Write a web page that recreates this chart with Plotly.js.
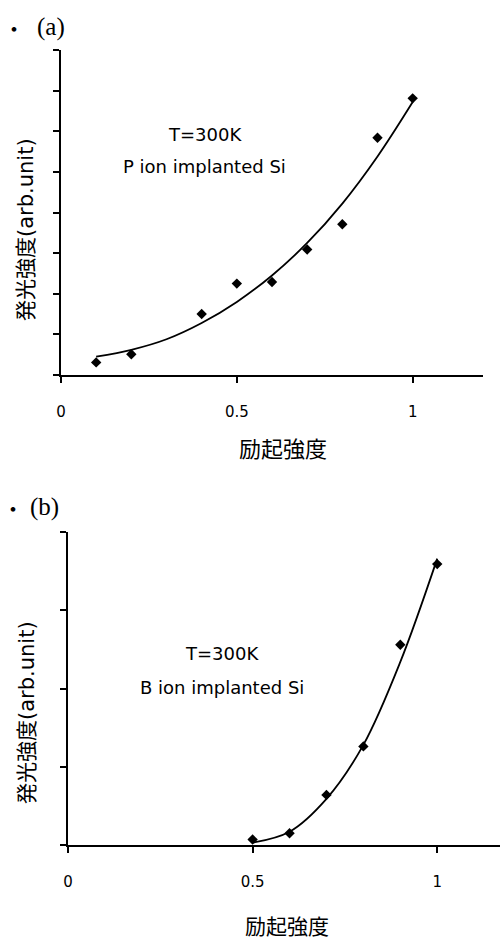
<!DOCTYPE html>
<html><head><meta charset="utf-8">
<script src="https://cdn.plot.ly/plotly-3.0.1.min.js"></script>
<style>html,body{margin:0;padding:0;background:#fff}</style>
</head><body><div id="chart" style="width:502px;height:942px"></div>
<script>
// Panel (a): P ion implanted Si
const xA = [0.1, 0.2, 0.4, 0.5, 0.6, 0.7, 0.8, 0.9, 1.0];
const yA = [0.31, 0.51, 1.50, 2.25, 2.29, 3.09, 3.71, 5.84, 6.81];
// trend curve (a)
const fitXA = [0.1, 0.2, 0.3, 0.4, 0.5, 0.6, 0.7, 0.8, 0.9, 1.0];
const fitYA = [0.45, 0.62, 0.88, 1.28, 1.80, 2.45, 3.25, 4.22, 5.38, 6.72];

// Panel (b): B ion implanted Si
const xB = [0.5, 0.6, 0.7, 0.8, 0.9, 1.0];
const yB = [0.07, 0.15, 0.64, 1.26, 2.56, 3.59];
// trend curve (b)
const fitXB = [0.5, 0.6, 0.7, 0.8, 0.9, 1.0];
const fitYB = [0.03, 0.17, 0.59, 1.28, 2.34, 3.66];

const xTickVals = [0, 0.5, 1];
const xTickText = ["0", "0.5", "1"];
const xTitle = "励起強度";
const yTitle = "発光強度(arb.unit)";
const labelA = ["T=300K", "P ion implanted Si"];
const labelB = ["T=300K", "B ion implanted Si"];
const panelA = "(a)", panelB = "(b)";

const W = 502, H = 942;
const px = x => x / W, py = y => 1 - y / H;

const mk = {symbol: 'diamond', size: 8, color: '#000'};
const ln = {color: '#000', width: 1.8, shape: 'spline', smoothing: 1};

const traces = [
  {x: fitXA, y: fitYA, mode: 'lines', line: ln, xaxis: 'x', yaxis: 'y', hoverinfo: 'skip'},
  {x: xA, y: yA, mode: 'markers', marker: mk, xaxis: 'x', yaxis: 'y'},
  {x: fitXB, y: fitYB, mode: 'lines', line: ln, xaxis: 'x2', yaxis: 'y2', hoverinfo: 'skip'},
  {x: xB, y: yB, mode: 'markers', marker: mk, xaxis: 'x2', yaxis: 'y2'}
];

const tickFont = {family: 'DejaVu Sans, Liberation Sans, sans-serif', size: 15, color: '#000'};
const xBase = {
  tickvals: xTickVals, ticktext: xTickText, ticks: 'outside', ticklen: 6, tickwidth: 2, tickcolor: '#000',
  showline: true, linecolor: '#000', linewidth: 2, showgrid: false, zeroline: false,
  tickfont: tickFont, ticklabelstandoff: 16, fixedrange: true
};
const yBase = {
  dtick: 1, tick0: 0, ticks: 'outside', ticklen: 6, tickwidth: 2, tickcolor: '#000',
  showline: true, linecolor: '#000', linewidth: 2, showgrid: false, zeroline: false,
  showticklabels: false, fixedrange: true
};

const cjk = 'Noto Sans CJK JP, sans-serif';
const mixed = 'DejaVu Sans, Noto Sans CJK JP, sans-serif';
const sans = 'DejaVu Sans, Liberation Sans, sans-serif';
const serif = 'Liberation Serif, DejaVu Serif, serif';
const ann = (text, x, y, size, family, angle) => ({
  text, x: px(x), y: py(y), xref: 'paper', yref: 'paper', showarrow: false,
  xanchor: 'center', yanchor: 'middle', textangle: angle || 0,
  font: {family, size, color: '#000'}
});

const layout = {
  width: W, height: H, margin: {l: 0, r: 0, t: 0, b: 0},
  paper_bgcolor: '#fff', plot_bgcolor: '#fff', showlegend: false,
  xaxis: Object.assign({}, xBase, {domain: [px(61), px(483)], range: [0, 1.2], anchor: 'y'}),
  yaxis: Object.assign({}, yBase, {domain: [py(375), py(50)], range: [0, 8], anchor: 'x'}),
  xaxis2: Object.assign({}, xBase, {domain: [px(68), px(500)], range: [0, 1.17], anchor: 'y2'}),
  yaxis2: Object.assign({}, yBase, {domain: [py(845), py(532)], range: [0, 4], anchor: 'x2'}),
  annotations: [
    ann('・', 14, 27, 22, cjk), ann(panelA, 51, 27, 25, serif),
    ann('・', 13, 507, 22, cjk), ann(panelB, 44, 507, 25, serif),
    ann(labelA[0], 205, 135, 18, sans),
    ann(labelA[1], 204, 167, 18, sans),
    ann(labelB[0], 222, 653, 18, sans),
    ann(labelB[1], 222, 687, 18, sans),
    ann(xTitle, 283, 447, 22, cjk), ann(xTitle, 287, 925, 21, cjk),
    ann(yTitle, 26, 230, 21, mixed, -90), ann(yTitle, 27, 713, 21, mixed, -90)
  ]
};

Plotly.newPlot('chart', traces, layout, {displayModeBar: false, staticPlot: true});
</script></body></html>
